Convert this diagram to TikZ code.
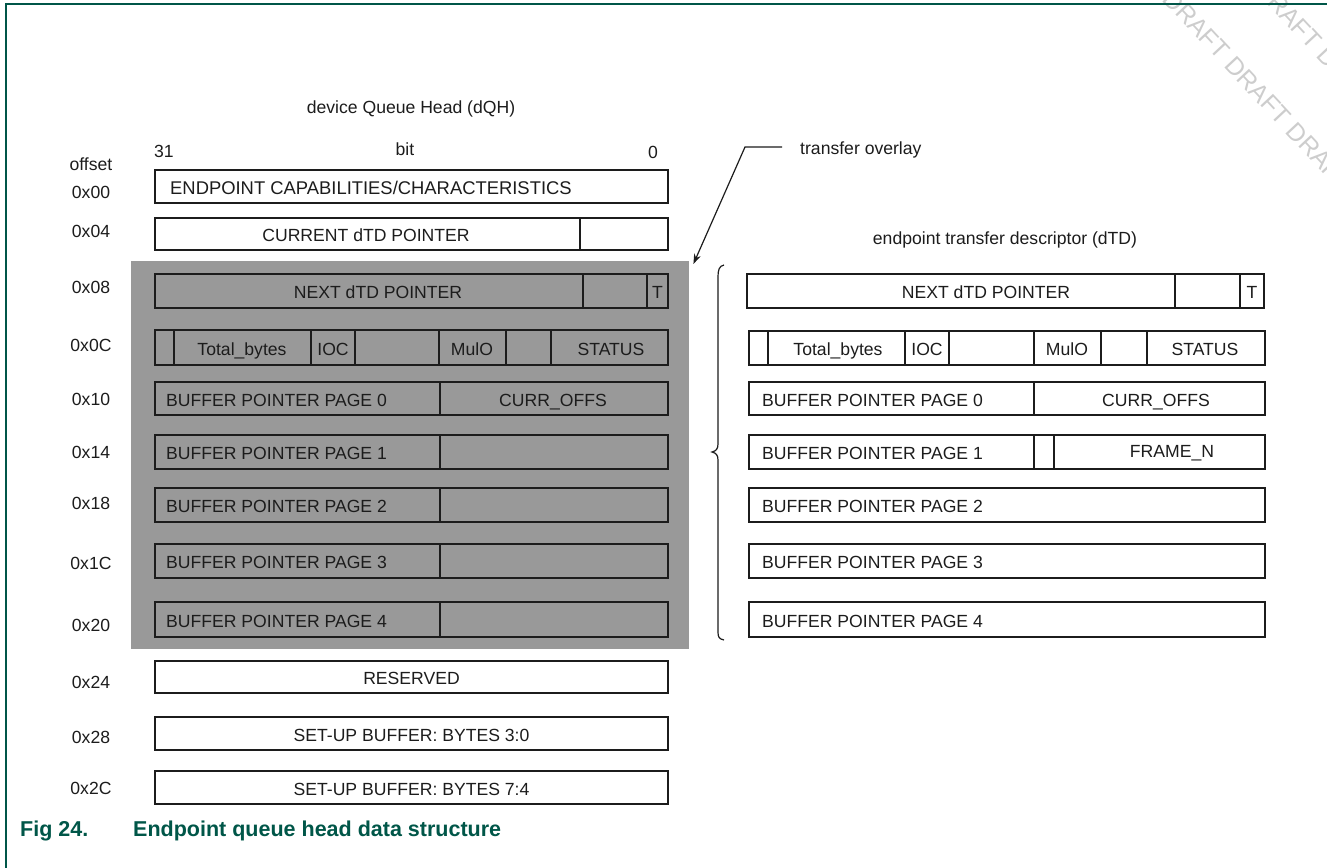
\documentclass[tikz,border=0pt]{standalone}
\usepackage{fontspec}
\setmainfont{Liberation Sans}
\usetikzlibrary{arrows.meta}
\definecolor{nxp}{RGB}{0,86,72}
\definecolor{ovlgray}{RGB}{153,153,153}
\definecolor{boxc}{RGB}{28,28,28}
\definecolor{wmc}{RGB}{205,205,205}
\newcommand\fs{\fontsize{17.6pt}{20pt}\selectfont}
\newcommand\mkcell[5]{\node[cellbox, minimum width={(#4-#2)*1pt}, minimum height={(#5-#3)*1pt}] (#1) at (#2,#3) {};}
\begin{document}
\begin{tikzpicture}[x=1pt,y=-1pt,
  cellbox/.style={draw=boxc, line width=2.2pt, rectangle, inner sep=0pt, outer sep=0pt, anchor=north west},
  lab/.style={font=\fs, text=boxc, inner sep=0pt, text height=15.4pt, text depth=0pt},
  labl/.style={lab, anchor=west},
  ovlbox/.style={fill=ovlgray, draw=none, rectangle, inner sep=0pt, anchor=north west},
  thinline/.style={draw=boxc, line width=1.2pt},
  wmark/.style={font=\fontsize{25pt}{27pt}\selectfont, text=wmc, inner sep=0pt, anchor=base west, rotate=-47}]
\useasboundingbox (0,0) rectangle (1327,867);

% watermark
\begin{scope}
\clip (0,0) rectangle (1327,867);
\node[wmark] (wm1) at (1100,-66) {DRAFT DRAFT DRAFT DRAFT};
\node[wmark] (wm2) at (1192,-76) {DRAFT DRAFT DRAFT};
\end{scope}

% frame
\draw[line width=2pt, nxp] (6,875) -- (6,4) -- (1335,4);

% titles
\node[lab] (tdqh) at (411,106) {device Queue Head (dQH)};
\node[lab] (tdtd) at (1005,237) {endpoint transfer descriptor (dTD)};
\node[labl] (b31) at (154,150) {31};
\node[lab] (bbit) at (405,148) {bit};
\node[lab] (b0) at (653,151) {0};
\node[lab] (toff) at (91,163) {offset};

% offsets
\node[lab] (o00) at (91,191) {0x00};
\node[lab] (o04) at (91,230) {0x04};
\node[lab] (o08) at (91,286) {0x08};
\node[lab] (o0C) at (91,344) {0x0C};
\node[lab] (o10) at (91,398) {0x10};
\node[lab] (o14) at (91,451) {0x14};
\node[lab] (o18) at (91,502) {0x18};
\node[lab] (o1C) at (91,562) {0x1C};
\node[lab] (o20) at (91,624) {0x20};
\node[lab] (o24) at (91,681) {0x24};
\node[lab] (o28) at (91,736) {0x28};
\node[lab] (o2C) at (91,787) {0x2C};

% overlay area
\node[ovlbox, minimum width=558pt, minimum height=388pt] (ovl) at (131,261) {};

% left column
\mkcell{c00}{155}{170}{668}{203}
\node[labl, font=\fontsize{18.4pt}{20pt}\selectfont] (t00) at ([xshift=15pt]c00.west) {ENDPOINT CAPABILITIES/CHARACTERISTICS};
\mkcell{c04a}{155}{218}{580}{250}\mkcell{c04b}{580}{218}{668}{250}
\node[lab] (t04) at (366,234) {CURRENT dTD POINTER};
\mkcell{c08a}{155}{274}{583}{308}\mkcell{c08b}{583}{274}{647}{308}\mkcell{c08c}{647}{274}{668}{308}
\node[lab] (t08) at (378,291) {NEXT dTD POINTER};
\node[lab] (t08T) at (657.5,291) {T};
\mkcell{c0Ca}{155}{330}{174}{365}\mkcell{c0Cb}{174}{330}{311}{365}\mkcell{c0Cc}{311}{330}{355}{365}
\mkcell{c0Cd}{355}{330}{439}{365}\mkcell{c0Ce}{439}{330}{506}{365}\mkcell{c0Cf}{506}{330}{551}{365}
\mkcell{c0Cg}{551}{330}{668}{365}
\node[lab] (t0Cb) at (242,347.5) {Total\_bytes};
\node[lab] (t0Cc) at (333,347.5) {IOC};
\node[lab] (t0Ce) at (472,347.5) {MulO};
\node[lab] (t0Cg) at (611,347.5) {STATUS};
\mkcell{c10a}{155}{382}{440}{415}\mkcell{c10b}{440}{382}{668}{415}
\node[labl] (t10) at ([xshift=11pt]c10a.west) {BUFFER POINTER PAGE 0};
\node[lab] (t10b) at (553,398.5) {CURR\_OFFS};
\mkcell{c14a}{155}{435}{440}{469}\mkcell{c14b}{440}{435}{668}{469}
\node[labl] (t14) at ([xshift=11pt]c14a.west) {BUFFER POINTER PAGE 1};
\mkcell{c18a}{155}{488}{440}{522}\mkcell{c18b}{440}{488}{668}{522}
\node[labl] (t18) at ([xshift=11pt]c18a.west) {BUFFER POINTER PAGE 2};
\mkcell{c1Ca}{155}{544}{440}{578}\mkcell{c1Cb}{440}{544}{668}{578}
\node[labl] (t1C) at ([xshift=11pt]c1Ca.west) {BUFFER POINTER PAGE 3};
\mkcell{c20a}{155}{602}{440}{637}\mkcell{c20b}{440}{602}{668}{637}
\node[labl] (t20) at ([xshift=11pt]c20a.west) {BUFFER POINTER PAGE 4};
\mkcell{c24}{155}{661}{668}{693}
\node[lab] (t24) at (c24.center) {RESERVED};
\mkcell{c28}{155}{717}{668}{750}
\node[lab] (t28) at (c28.center) {SET-UP BUFFER: BYTES 3:0};
\mkcell{c2C}{155}{771}{668}{804}
\node[lab] (t2C) at (c2C.center) {SET-UP BUFFER: BYTES 7:4};

% right column (dTD)
\mkcell{d0a}{747}{274}{1175}{308}\mkcell{d0b}{1175}{274}{1240}{308}\mkcell{d0c}{1240}{274}{1264}{308}
\node[lab] (u0) at (986,291) {NEXT dTD POINTER};
\node[lab] (u0T) at (1252,291) {T};
\mkcell{d1a}{749}{331}{768}{365}\mkcell{d1b}{768}{331}{905}{365}\mkcell{d1c}{905}{331}{949}{365}
\mkcell{d1d}{949}{331}{1034}{365}\mkcell{d1e}{1034}{331}{1101}{365}\mkcell{d1f}{1101}{331}{1147}{365}
\mkcell{d1g}{1147}{331}{1265}{365}
\node[lab] (u1b) at (838,348) {Total\_bytes};
\node[lab] (u1c) at (927,348) {IOC};
\node[lab] (u1e) at (1067,348) {MulO};
\node[lab] (u1g) at (1205,348) {STATUS};
\mkcell{d2a}{749}{382}{1034}{415}\mkcell{d2b}{1034}{382}{1265}{415}
\node[labl] (u2) at ([xshift=13pt]d2a.west) {BUFFER POINTER PAGE 0};
\node[lab] (u2b) at (1156,398.5) {CURR\_OFFS};
\mkcell{d3a}{749}{435}{1034}{469}\mkcell{d3b}{1034}{435}{1054}{469}\mkcell{d3c}{1054}{435}{1265}{469}
\node[labl] (u3) at ([xshift=13pt]d3a.west) {BUFFER POINTER PAGE 1};
\node[lab] (u3c) at (1172,450) {FRAME\_N};
\mkcell{d4}{749}{488}{1265}{522}
\node[labl] (u4) at ([xshift=13pt]d4.west) {BUFFER POINTER PAGE 2};
\mkcell{d5}{749}{544}{1265}{578}
\node[labl] (u5) at ([xshift=13pt]d5.west) {BUFFER POINTER PAGE 3};
\mkcell{d6}{749}{602}{1265}{637}
\node[labl] (u6) at ([xshift=13pt]d6.west) {BUFFER POINTER PAGE 4};

% brace
\draw[thinline] (724,265) .. controls (719,266) and (718,270) .. (718,277) -- (718,444)
  .. controls (718,449) and (716,451) .. (712,452) .. controls (716,453) and (718,455) .. (718,460)
  -- (718,632) .. controls (718,637) and (719,639) .. (724,640);

% transfer overlay label and leader
\node[labl] (tov) at (800,147) {transfer overlay};
\draw[thinline, -{Stealth[length=10pt,width=7pt]}] ([xshift=-18pt]tov.west) -- ++(-37,0) -- ([shift={(4,3)}]ovl.north east);

% caption
\node[font=\fontsize{21.5pt}{24pt}\selectfont\bfseries, text=nxp, anchor=base west, inner sep=0pt] (cap) at (20,836) {\makebox[113pt][l]{Fig 24.}Endpoint queue head data structure};
\end{tikzpicture}
\end{document}
